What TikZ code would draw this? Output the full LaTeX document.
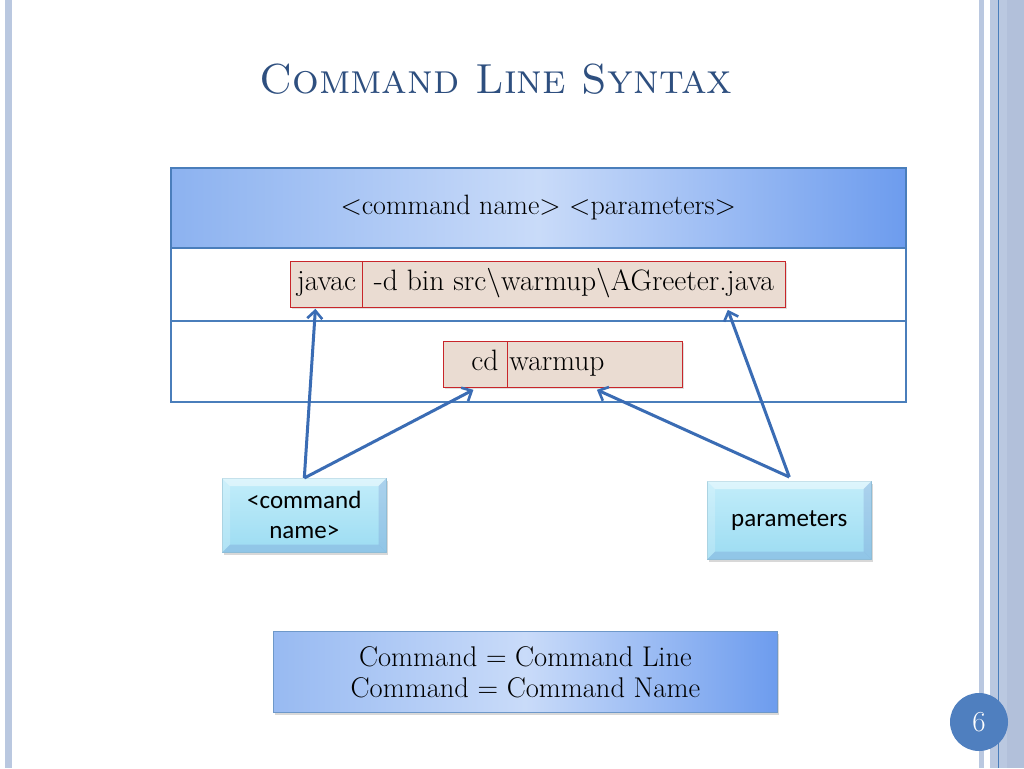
\documentclass[tikz,border=0pt]{standalone}
\usepackage{fontspec}
\newfontfamily\calibri{Carlito}
\usetikzlibrary{arrows.meta,shadows,calc}
\definecolor{titleblue}{HTML}{2E4F7F}
\definecolor{frameblue}{HTML}{4A7EBB}
\definecolor{arrowblue}{HTML}{3A6CB4}
\definecolor{headL}{HTML}{8CB2F0}
\definecolor{headM}{HTML}{C9DBF9}
\definecolor{headR}{HTML}{6D9CEE}
\definecolor{cellfill}{HTML}{EADCD2}
\definecolor{cellred}{HTML}{C8262A}
\definecolor{cyanT}{HTML}{C2EDFA}
\definecolor{cyanB}{HTML}{9CDCF2}
\definecolor{stripe}{HTML}{BAC8E0}
\definecolor{stripeD}{HTML}{B2C0DA}
\definecolor{pageblue}{HTML}{4F7FBF}
\tikzset{
  headbox/.style={draw=frameblue, line width=1.5pt, left color=headL, right color=headR, middle color=headM,
     minimum width=735pt, minimum height=80pt, anchor=north west, inner sep=0pt,
     font=\fontsize{28}{32}\selectfont},
  rowbox/.style={draw=frameblue, line width=2pt, fill=white, minimum width=735pt, anchor=north west, inner sep=0pt},
  cellbox/.style={draw=cellred, line width=0.8pt, fill=cellfill, minimum height=46pt, anchor=north west,
     inner sep=0pt, font=\fontsize{29.5}{32}\selectfont,
     drop shadow={shadow xshift=1.5pt, shadow yshift=-2pt, opacity=0.25}},
  tagbox/.style={draw=cyanB!80!gray, line width=0.6pt, top color=cyanT, bottom color=cyanB,
     anchor=north west, inner sep=0pt, align=center, font=\calibri\fontsize{25}{30}\selectfont,
     drop shadow={shadow xshift=2pt, shadow yshift=-3pt, opacity=0.3}},
  bevlight/.style={fill=white, fill opacity=0.45},
  bevdark/.style={fill=cyanB!60!blue!60!gray, fill opacity=0.25},
  notebox/.style={draw=frameblue!80, line width=0.8pt, left color=headL!90!white, right color=headR, middle color=headM,
     minimum width=504pt, minimum height=81pt, anchor=north west, inner sep=0pt, align=center,
     font=\fontsize{28.5}{31}\selectfont,
     drop shadow={shadow xshift=2pt, shadow yshift=-3pt, opacity=0.3}},
  arr/.style={draw=arrowblue, line width=3pt, -{Straight Barb[length=8pt,width=15pt,line width=2.6pt]}}
}
\begin{document}
\begin{tikzpicture}[x=1pt,y=-1pt]
\useasboundingbox (0,0) rectangle (1024,768);
\fill[white] (0,0) rectangle (1024,768);
% side stripes
\fill[stripe] (5,0) rectangle (12,768);
\fill[stripe] (979,0) rectangle (984,768);
\fill[stripe] (990,0) rectangle (1007,768);
\fill[stripeD] (1007,0) rectangle (1024,768);
\draw[frameblue, line width=0.8pt] (998,0) -- (998,768);
% title
\node[anchor=base, text=titleblue, font=\fontsize{42}{46}\selectfont\scshape] (title) at (496,93) {Command Line Syntax};
% table
\node[headbox] (head) at (170,167) {\raisebox{-3pt}{\textless command name\textgreater{} \textless parameters\textgreater}};
\node[rowbox, minimum height=73pt] (row1) at (170,247) {};
\node[rowbox, minimum height=81pt] (row2) at (170,320) {};
% cells
\node[cellbox, minimum width=72pt] (javac) at (290,261) {\strut javac};
\node[cellbox, minimum width=423pt] (params) at (362,261) {\strut -d bin src\textbackslash warmup\textbackslash AGreeter.java};
\node[cellbox, minimum width=64pt, text width=46pt, align=right] (cd) at (443,341) {\strut cd};
\node[cellbox, minimum width=175pt, text width=171pt, align=left] (warm) at (507,341) {\strut warmup};
% tags
\node[tagbox, minimum width=164pt, minimum height=74pt] (cmd) at (222,478) {\textless command\\name\textgreater};
\node[tagbox, minimum width=164pt, minimum height=78pt] (par) at (707,481) {parameters};
\foreach \n in {cmd,par}{
  \fill[bevlight] (\n.north west) -- (\n.north east) -- ($(\n.north east)+(-8,8)$) -- ($(\n.north west)+(8,8)$) -- cycle;
  \fill[bevlight, fill opacity=0.2] (\n.north west) -- ($(\n.north west)+(8,8)$) -- ($(\n.south west)+(8,-8)$) -- (\n.south west) -- cycle;
  \fill[bevdark] (\n.north east) -- (\n.south east) -- ($(\n.south east)+(-8,-8)$) -- ($(\n.north east)+(-8,8)$) -- cycle;
  \fill[bevdark] (\n.south west) -- (\n.south east) -- ($(\n.south east)+(-8,-8)$) -- ($(\n.south west)+(8,-8)$) -- cycle;
}
% arrows
\draw[arr] (cmd.north) -- ($(javac.south)+(-11,1)$);
\draw[arr] (cmd.north) -- ($(cd.south)+(-2,2)$);
\draw[arr] ($(par.north)+(0,-4)$) coordinate (pjoin) -- ($(params.south east)+(-58,2)$);
\draw[arr] (pjoin) -- ($(warm.south)+(2,2)$);
% note box
\node[notebox] (note) at (273,631) {Command = Command Line\\Command = Command Name};
% page number
\node[circle, fill=pageblue, minimum size=58pt, inner sep=0pt, text=white, font=\fontsize{29}{30}\selectfont] (pg) at (979,722) {6};
\end{tikzpicture}
\end{document}
